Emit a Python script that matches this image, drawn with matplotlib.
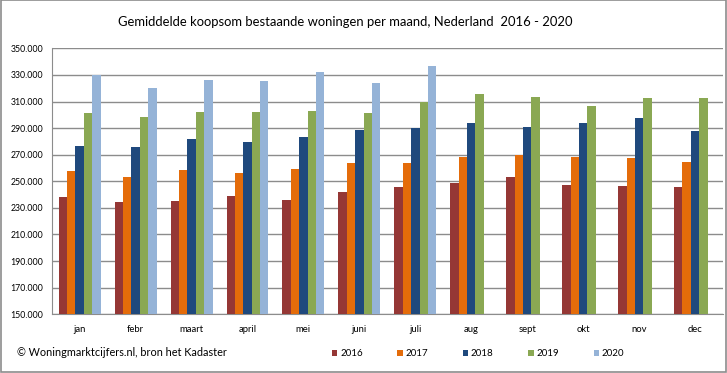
import matplotlib
matplotlib.use("Agg")
import matplotlib.pyplot as plt
from matplotlib.patches import Rectangle
import numpy as np

plt.rcParams['font.family'] = ['Lato', 'DejaVu Sans']

months = ["jan", "febr", "maart", "april", "mei", "juni", "juli", "aug", "sept", "okt", "nov", "dec"]
years = ["2016", "2017", "2018", "2019", "2020"]
v2016 = [238400, 234700, 235400, 239200, 236200, 242200, 245900, 248900, 253500, 247400, 246700, 245900]
v2017 = [257700, 253500, 258700, 256500, 259500, 264000, 264000, 268500, 269500, 268500, 267700, 264700]
v2018 = [276800, 275600, 281600, 279800, 283500, 288800, 290300, 294100, 291000, 294100, 297800, 288000]
v2019 = [301600, 298600, 302300, 302300, 303100, 301600, 309400, 315900, 313400, 306800, 312600, 312600]
v2020 = [329900, 320400, 326400, 325600, 332400, 324100, 336900]
colors = ["#953735", "#E46C0A", "#1F497D", "#8AA853", "#95B3D7"]

series = [v2016, v2017, v2018, v2019, v2020]
yticks = np.arange(150000, 350001, 20000)

fig = plt.figure(figsize=(7.27, 3.73), dpi=100)
ax = fig.add_axes([0.0711, 0.1574, 0.9234, 0.7131])

w = 0.15
handles = []
for j, vals in enumerate(series):
    x = np.arange(len(vals)) + (j - 2) * w
    b = ax.bar(x, np.array(vals) - 150000, bottom=150000, width=w,
               color=colors[j], edgecolor='none', zorder=3, label=years[j])
    handles.append(b)

ax.set_xlim(-0.5, 11.5)
ax.set_ylim(150000, 350000)
ax.set_yticks(yticks)
ax.set_yticklabels([f"{t:,}".replace(",", ".") for t in yticks], fontsize=6.3)
ax.set_xticks(np.arange(12))
ax.set_xticklabels(months, fontsize=6.8)
ax.tick_params(axis='x', length=0, pad=8)
ax.tick_params(axis='y', length=0, pad=6)
ax.grid(axis='y', color='#8c8c8c', linewidth=1, zorder=0)
for s in ['top', 'right']:
    ax.spines[s].set_visible(False)
for s in ['left', 'bottom']:
    ax.spines[s].set_color('#8c8c8c')

fig.text(345 / 727, 1 - 22 / 373, "Gemiddelde koopsom bestaande woningen per maand, Nederland  2016 - 2020",
         ha='center', va='center', fontsize=9.4)
fig.text(17 / 727, 1 - 353 / 373, "\u00a9 Woningmarktcijfers.nl, bron het Kadaster",
         ha='left', va='center', fontsize=7.8)

fig.legend(handles=handles, loc='center left', bbox_to_anchor=(327 / 727, 1 - 354 / 373),
           ncol=5, frameon=False, fontsize=7.0, handlelength=0.55, handleheight=0.55,
           handletextpad=0.3, columnspacing=3.55, borderpad=0)

fig.add_artist(Rectangle((0.001, 0.003), 0.997, 0.996, transform=fig.transFigure,
                         fill=False, edgecolor='#8c8c8c', linewidth=1.2))

fig.savefig("out.png", dpi=100)
